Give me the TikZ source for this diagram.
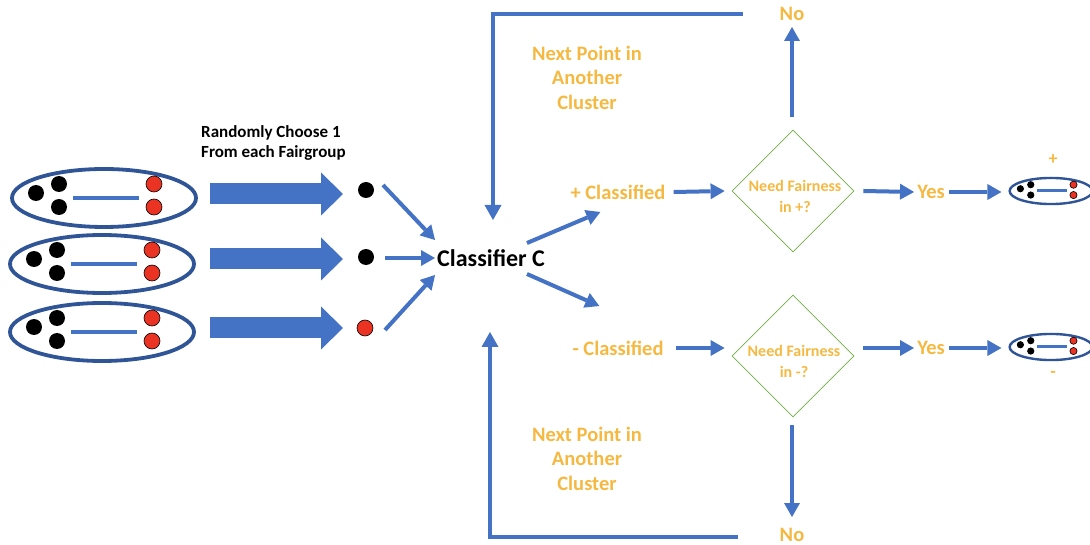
\documentclass[tikz,border=0pt]{standalone}
\usepackage{fontspec}
\setmainfont{Carlito}
\usetikzlibrary{arrows.meta,calc,shapes.geometric}
\definecolor{blueA}{RGB}{68,114,196}
\definecolor{blueD}{RGB}{47,85,151}
\definecolor{goldC}{RGB}{245,185,66}
\definecolor{greenC}{RGB}{112,173,71}
\definecolor{redC}{RGB}{234,51,35}
% name, x, y, scale, ellipse line width, bar line width
\newcommand\fgrp[6]{%
  \node[ellipse, draw=blueD, line width=#5, minimum width=#4*184pt, minimum height=#4*58pt, inner sep=0pt] (#1) at (#2,#3) {};
  \begin{scope}[shift={(#1.center)}, scale=#4]
    \fill[black] (-68,-5) circle[radius=8] (-45,-14) circle[radius=8] (-45,9) circle[radius=8];
    \filldraw[fill=redC, draw=black, line width=0.6pt] (50,-14) circle[radius=8] (50,9) circle[radius=8];
    \draw[blueA, line width=#6] (-31,0) -- (35,0);
  \end{scope}}
\begin{document}
\begin{tikzpicture}[x=1pt,y=-1pt,
  arr/.style={draw=blueA, line width=4pt, -{Triangle[length=14pt,width=16pt,line width=0pt]}},
  backline/.style={draw=blueA, line width=4.5pt, -{Triangle[length=15pt,width=17pt,line width=0pt]}},
  bigarr/.style={draw=blueA, line width=21pt, -{Triangle[length=22pt,width=43pt,line width=0pt]}},
  gold/.style={text=goldC, font=\bfseries\fontsize{20.5}{24.5}\selectfont, inner sep=0pt, align=center},
  goldsmall/.style={text=goldC, font=\bfseries\fontsize{16}{21}\selectfont, inner sep=0pt, align=center},
  dec/.style={diamond, draw=greenC, line width=0.8pt, minimum width=122pt, minimum height=122pt, inner sep=0pt, aspect=1},
  dot/.style={circle, inner sep=0pt, minimum size=16pt},
]
\useasboundingbox (0,0) rectangle (1090,545);

% fair groups
\fgrp{g1}{104}{198}{1}{3.8pt}{4.5pt}
\fgrp{g2}{102}{264}{1}{3.8pt}{4.5pt}
\fgrp{g3}{102}{332}{1}{3.8pt}{4.5pt}
\fgrp{s1}{1051}{191}{0.45}{2.4pt}{3pt}
\fgrp{s2}{1051}{347}{0.45}{2.4pt}{3pt}

% title
\node[anchor=west, align=left, inner sep=0pt, font=\bfseries\fontsize{17}{20}\selectfont] (rc) at (201,143) {Randomly Choose 1\\From each Fairgroup};

% picked points
\node[dot, fill=black] (p1) at (366,190) {};
\node[dot, fill=black] (p2) at (366,257) {};
\node[dot, fill=redC, draw=black, line width=0.6pt] (p3) at (365,328) {};

% big arrows
\draw[bigarr] ($(g1)+(106,-4)$) -- ($(p1)+(-23,4)$);
\draw[bigarr] ($(g2)+(108,-5)$) -- ($(p2)+(-23,2)$);
\draw[bigarr] ($(g3)+(108,-4)$) -- ($(p3)+(-22,0)$);

% classifier
\node[inner sep=0pt, font=\bfseries\fontsize{24}{28}\selectfont] (cls) at (491,258) {Classifier C};
\draw[arr] ($(p1)+(17,-5)$) -- ($(cls.west)+(-2,-18)$);
\draw[arr] ($(p2)+(19,1)$) -- ($(cls.west)+(-2,0)$);
\draw[arr] ($(p3)+(20,2)$) -- ($(cls.west)+(-2,17)$);

% classified labels
\node[gold] (plus) at (618,192) {+ Classified};
\node[gold] (minus) at (618,348) {- Classified};
\draw[arr] ($(cls.center)+(36,-15)$) -- ($(plus.west)+(30,20)$);
\draw[arr] ($(cls.center)+(36,16)$) -- ($(minus.west)+(27,-42)$);

% decisions
\node[dec] (d1) at (793,191) {};
\node[goldsmall] (d1t) at (795,196.5) {Need Fairness\\in +?};
\node[dec] (d2) at (793,356) {};
\node[goldsmall] (d2t) at (794,361) {Need Fairness\\in -?};
\draw[arr] ($(plus.east)+(8,0)$) -- ($(d1.west)+(-7,0)$);
\draw[arr] ($(minus.east)+(12,0)$) -- ($(d2.west)+(-7,-8)$);

% yes branches
\node[gold] (yes1) at (931,192) {Yes};
\node[gold] (yes2) at (931,348) {Yes};
\draw[arr] ($(d1.east)+(9,0)$) -- ($(yes1.west)+(-3,0)$);
\draw[arr] ($(d2.east)+(9,-8)$) -- ($(yes2.west)+(-3,0)$);
\draw[arr] ($(yes1.east)+(4,0)$) -- ($(s1.west)+(-7,1)$);
\draw[arr] ($(yes2.east)+(4,0)$) -- ($(s2.west)+(-7,1)$);
\node[gold, font=\bfseries\fontsize{18}{20}\selectfont] (pl) at (1053,160) {+};
\node[gold, font=\bfseries\fontsize{18}{20}\selectfont] (mi) at (1053,374) {-};

% no branches
\node[gold] (no1) at (792,14) {No};
\node[gold] (no2) at (792,535) {No};
\draw[arr] ($(d1.north)+(-1,-13)$) -- ($(no1.center)+(0,13)$);
\draw[arr] ($(d2.south)+(-1,8)$) -- ($(no2.center)+(0,-18)$);

% loops back
\draw[backline] ($(no1.west)+(-37,0)$) -| ($(cls.center)+(2,-38)$);
\draw[backline] ($(no2.west)+(-42,2)$) -| ($(cls.center)+(-1,74)$);
\node[gold] (nx1) at (587,77.5) {Next Point in\\Another\\Cluster};
\node[gold] (nx2) at (587,458.5) {Next Point in\\Another\\Cluster};
\end{tikzpicture}
\end{document}
